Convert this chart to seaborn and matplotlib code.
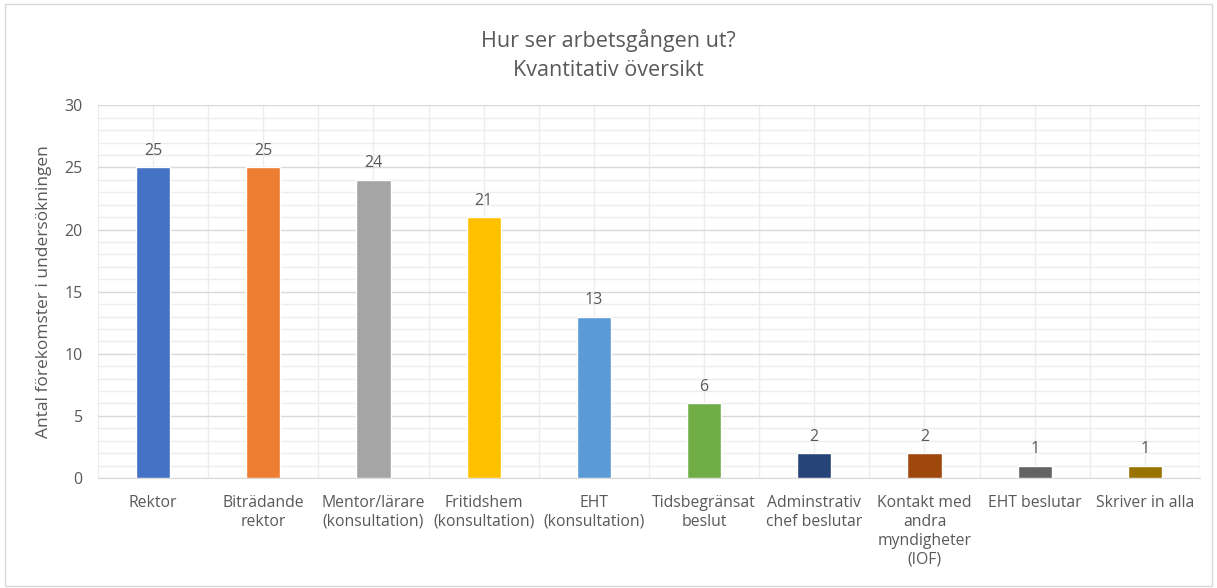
import pandas as pd
import matplotlib.pyplot as plt
import seaborn as sns
from matplotlib.ticker import MultipleLocator

# Data
categories = ["Rektor", "Biträdande rektor", "Mentor/lärare (konsultation)",
              "Fritidshem (konsultation)", "EHT (konsultation)", "Tidsbegränsat beslut",
              "Adminstrativ chef beslutar", "Kontakt med andra myndigheter (IOF)",
              "EHT beslutar", "Skriver in alla"]
counts = [25, 25, 24, 21, 13, 6, 2, 2, 1, 1]
tick_labels = ["Rektor", "Biträdande\nrektor", "Mentor/lärare\n(konsultation)",
               "Fritidshem\n(konsultation)", "EHT\n(konsultation)", "Tidsbegränsat\nbeslut",
               "Adminstrativ\nchef beslutar", "Kontakt med\nandra\nmyndigheter\n(IOF)",
               "EHT beslutar", "Skriver in alla"]
bar_colors = ["#4472C4", "#ED7D31", "#A5A5A5", "#FFC000", "#5B9BD5",
              "#70AD47", "#264478", "#9E480E", "#636363", "#997300"]

df = pd.DataFrame({"Kategori": categories, "Antal": counts})

sns.set_style("white")
plt.rcParams['font.family'] = ['Open Sans', 'DejaVu Sans']
text_col = "#595959"

fig = plt.figure(figsize=(12.17, 5.88), dpi=100)
ax = fig.add_axes([0.0805, 0.187, 0.9055, 0.634])

sns.barplot(data=df, x="Kategori", y="Antal", hue="Kategori", palette=bar_colors,
            legend=False, width=0.31, saturation=1, ax=ax, zorder=3)

ax.set_ylim(0, 30)
ax.set_xlim(-0.5, len(categories) - 0.5)
ax.yaxis.set_major_locator(MultipleLocator(5))
ax.yaxis.set_minor_locator(MultipleLocator(1))
ax.xaxis.set_minor_locator(MultipleLocator(0.5))
ax.grid(which="major", axis="y", color="#D9D9D9", linewidth=1, zorder=0)
ax.grid(which="minor", axis="y", color="#EDEDED", linewidth=1, zorder=0)
ax.grid(which="both", axis="x", color="#EDEDED", linewidth=1, zorder=0)
ax.set_axisbelow(True)

for s in ["top", "right", "left"]:
    ax.spines[s].set_visible(False)
ax.spines["bottom"].set_color("#D9D9D9")

ax.set_xticks(range(len(categories)))
ax.set_xticklabels(tick_labels, fontsize=11.3, color=text_col, linespacing=1.25)
ax.tick_params(axis="x", which="both", length=0, pad=12)
ax.tick_params(axis="y", which="both", length=0, labelsize=11.5, labelcolor=text_col, pad=11)

ax.set_xlabel("")
ax.set_ylabel("Antal förekomster i undersökningen", fontsize=12.5, color=text_col, labelpad=9)

for cont in ax.containers:
    ax.bar_label(cont, fontsize=11.5, color=text_col, padding=6)

fig.suptitle("Hur ser arbetsgången ut?\nKvantitativ översikt", y=0.95, fontsize=15.5,
             color=text_col, linespacing=1.45)

fig.patches.append(plt.Rectangle((0.004, 0.004), 0.992, 0.99, transform=fig.transFigure,
                                 fill=False, edgecolor="#D9D9D9", linewidth=1))

plt.savefig("out.png", dpi=100)
